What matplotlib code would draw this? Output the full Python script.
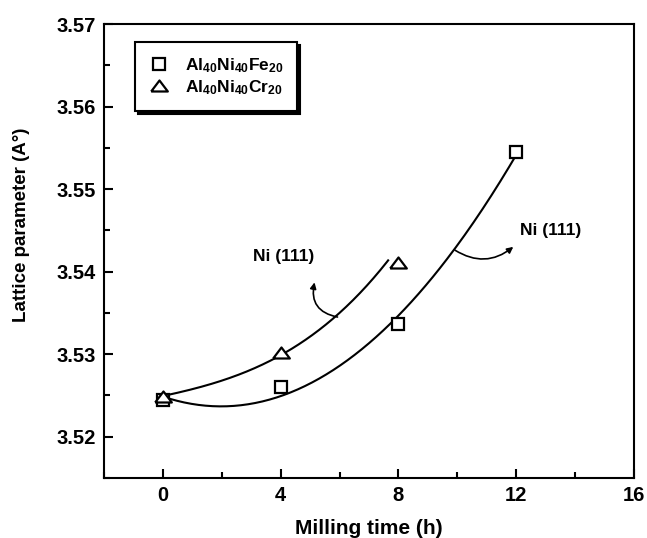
import numpy as np
import matplotlib
matplotlib.use("Agg")
import matplotlib.pyplot as plt
from matplotlib.ticker import MultipleLocator

# ---- data ----
time_fe = [0, 4, 8, 12]
lat_fe = [3.5245, 3.5260, 3.5336, 3.5545]
time_cr = [0, 4, 8]
lat_cr = [3.5248, 3.5302, 3.5410]
# points
cr_curve_x = [0.0, 1.0, 2.0, 3.0, 4.0, 5.0, 6.0, 6.9, 7.65]
cr_curve_y = [3.5250, 3.5257, 3.5267, 3.5281, 3.5300, 3.5323, 3.5350, 3.5378, 3.5416]

label_fe = r'Al$_{40}$Ni$_{40}$Fe$_{20}$'
label_cr = r'Al$_{40}$Ni$_{40}$Cr$_{20}$'
x_ticks = [0, 4, 8, 12, 16]
y_ticks = [3.52, 3.53, 3.54, 3.55, 3.56, 3.57]

plt.rcParams['font.family'] = ['Liberation Sans', 'DejaVu Sans']
plt.rcParams['font.weight'] = 'bold'
plt.rcParams['mathtext.fontset'] = 'custom'
plt.rcParams['mathtext.rm'] = 'Liberation Sans:bold'
plt.rcParams['mathtext.bf'] = 'Liberation Sans:bold'
plt.rcParams['mathtext.it'] = 'Liberation Sans:bold'
plt.rcParams['mathtext.default'] = 'bf'

fig = plt.figure(figsize=(6.47, 5.38), dpi=100)
ax = fig.add_axes([104/647, 1-478/538, 530/647, 454/538])

tri = [(-1, -0.6), (1, -0.6), (0, 0.72), (-1, -0.6)]

# trend curves
fe_coef = np.polyfit(time_fe, lat_fe, 2)
xf = np.linspace(min(time_fe), max(time_fe), 200)
ax.plot(xf, np.polyval(fe_coef, xf), color='k', lw=1.5, zorder=2)

cr_coef = np.polyfit(cr_curve_x, cr_curve_y, 3)
xc = np.linspace(min(cr_curve_x), max(cr_curve_x), 200)
ax.plot(xc, np.polyval(cr_coef, xc), color='k', lw=1.5, zorder=2)

ax.plot(time_fe, lat_fe, linestyle='none', marker='s', ms=9, mfc='white',
        mec='k', mew=1.6, label=label_fe, zorder=3)
ax.plot(time_cr, lat_cr, linestyle='none', marker=tri, ms=12, mfc='white',
        mec='k', mew=1.6, label=label_cr, zorder=3)

ax.set_xlim(-2, 16)
ax.set_ylim(3.515, 3.57)
ax.set_xticks(x_ticks)
ax.set_yticks(y_ticks)
ax.set_yticklabels([f'{v:.2f}' for v in y_ticks])
ax.xaxis.set_minor_locator(MultipleLocator(2))
ax.yaxis.set_minor_locator(MultipleLocator(0.005))
ax.tick_params(which='both', direction='in', top=False, right=False, width=1.5)
ax.tick_params(which='major', length=6.5, labelsize=14.5, pad=6)
ax.tick_params(which='minor', length=4.5)
for s in ax.spines.values():
    s.set_linewidth(1.5)

fig.text(369/647, 1-528/538, 'Milling time (h)', ha='center', va='center',
         fontsize=15, fontweight='bold')
fig.text(22/647, 1-225/538, 'Lattice parameter (A\u00b0)', ha='center', va='center',
         rotation=90, fontsize=13.5, fontweight='bold')

leg = ax.legend(loc='upper left', bbox_to_anchor=(0.058, 0.96), borderaxespad=0,
                fontsize=12.5, handlelength=1.2, handletextpad=0.9, borderpad=0.8,
                labelspacing=0.2, fancybox=False, edgecolor='k', framealpha=1,
                shadow={'color': 'k', 'alpha': 1})
leg.get_frame().set_linewidth(1.5)

# annotations
ax.text(4.09, 3.5418, 'Ni (111)', ha='center', va='center', fontsize=12.5,
        fontweight='bold')
ax.text(13.16, 3.5450, 'Ni (111)', ha='center', va='center', fontsize=12.5,
        fontweight='bold')
ax.annotate('', xy=(5.15, 3.5387), xytext=(5.93, 3.5345),
            arrowprops=dict(arrowstyle='-|>', connectionstyle='arc3,rad=-0.5',
                            lw=1.2, color='k', mutation_scale=9,
                            shrinkA=0, shrinkB=0))
ax.annotate('', xy=(11.9, 3.5430), xytext=(9.92, 3.5426),
            arrowprops=dict(arrowstyle='-|>', connectionstyle='arc3,rad=0.35',
                            lw=1.2, color='k', mutation_scale=9,
                            shrinkA=0, shrinkB=0))

fig.savefig('out.png', dpi=100)
